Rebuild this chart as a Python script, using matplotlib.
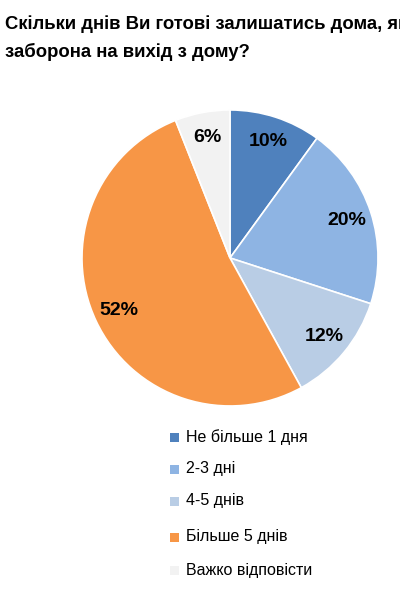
import matplotlib
matplotlib.use("Agg")
import matplotlib.pyplot as plt
from matplotlib.patches import Rectangle

labels = ["Не більше 1 дня", "2-3 дні", "4-5 днів", "Більше 5 днів", "Важко відповісти"]
values = [10, 20, 12, 52, 6]
colors = ["#4F81BD", "#8EB4E3", "#B9CDE5", "#F79646", "#F2F2F2"]

fam = ["Liberation Sans Narrow", "Liberation Sans", "DejaVu Sans"]
plt.rcParams["font.family"] = fam

fig = plt.figure(figsize=(4.0, 5.91), dpi=100)
fig.text(0.012, 0.975, "Скільки днів Ви готові залишатись дома, якщо буде", fontsize=13.3,
         fontweight="bold", va="top", ha="left")
fig.text(0.012, 0.928, "заборона на вихід з дому?", fontsize=13.3,
         fontweight="bold", va="top", ha="left")

ax = fig.add_axes([0.205, 0.313, 0.74, 0.501])
ax.pie(values, colors=colors, startangle=90, counterclock=False,
       autopct=lambda p: f"{p:.0f}%", pctdistance=0.83,
       wedgeprops={"edgecolor": "white", "linewidth": 1.2},
       textprops={"fontsize": 14, "fontweight": "bold", "color": "black"})
ax.set_xlim(-1, 1)
ax.set_ylim(-1, 1)
ax.set_aspect("equal")

ys = [437, 469, 501, 537, 570]
for lab, col, y in zip(labels, colors, ys):
    yf = 1 - y / 591
    fig.patches.append(Rectangle((170 / 400, yf - 4.5 / 591), 9 / 400, 9 / 591,
                                 transform=fig.transFigure, facecolor=col, edgecolor="none"))
    fig.text(186 / 400, yf, lab, fontsize=11.5, va="center", ha="left")

fig.savefig("out.png", dpi=100)
